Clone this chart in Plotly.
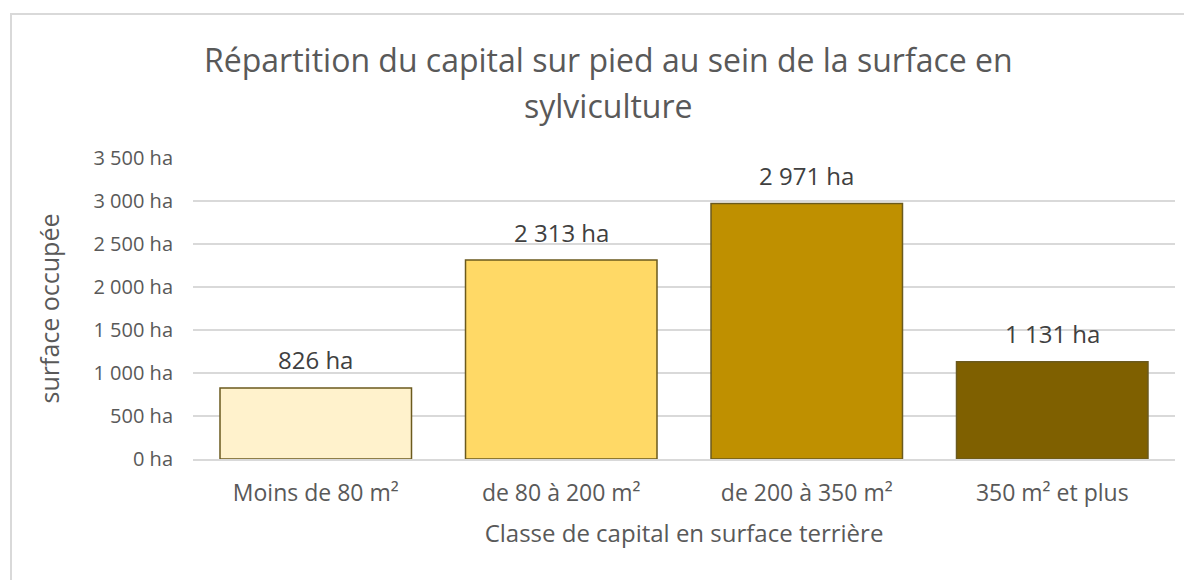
import plotly.graph_objects as go

categories = ["Moins de 80 m²", "de 80 à 200 m²", "de 200 à 350 m²", "350 m² et plus"]
surfaces = [826, 2313, 2971, 1131]
labels = ["826 ha", "2 313 ha", "2 971 ha", "1 131 ha"]
bar_colors = ["#FFF2CC", "#FFD966", "#BF9000", "#7F6000"]
tick_vals = [0, 500, 1000, 1500, 2000, 2500, 3000, 3500]
tick_text = ["0 ha", "500 ha", "1 000 ha", "1 500 ha", "2 000 ha", "2 500 ha", "3 000 ha", "3 500 ha"]

FONT = "Open Sans"
GRAY = "#595959"

# plot area in figure pixels (page has an 8px body margin)
L, R, T, B = 185, 25, 150, 129
PW, PH = 1192 - L - R, 580 - T - B

fig = go.Figure()
fig.add_trace(go.Bar(
    x=categories, y=surfaces,
    marker=dict(color=bar_colors, line=dict(color="#6B5A1E", width=1.5)),
    width=0.78, hoverinfo="x+y",
))

data_labels = [
    dict(x=c, y=v, text=t, xref="x", yref="y", showarrow=False, yshift=28,
         xanchor="center", yanchor="middle",
         font=dict(family=FONT, size=24, color="#404040"))
    for c, v, t in zip(categories, surfaces, labels)
]

fig.update_layout(
    width=1192, height=580,
    paper_bgcolor="white", plot_bgcolor="white",
    margin=dict(l=L, r=R, t=T, b=B),
    showlegend=False,
    font=dict(family=FONT, color=GRAY),
    xaxis=dict(
        tickfont=dict(family=FONT, size=23, color=GRAY),
        title=dict(text="Classe de capital en surface terrière", font=dict(family=FONT, size=24, color=GRAY), standoff=18),
        showline=True, linecolor="#D9D9D9", linewidth=1.5,
        ticks="", showgrid=False, ticklabelstandoff=13,
    ),
    yaxis=dict(
        range=[0, 3500],
        tickvals=tick_vals, ticktext=tick_text,
        tickfont=dict(family=FONT, size=20, color=GRAY),
        title=dict(text="surface occupée", font=dict(family=FONT, size=25, color=GRAY), standoff=26),
        showgrid=True, gridcolor="#D9D9D9", gridwidth=1.5,
        zeroline=False, ticks="", ticklabelstandoff=19,
    ),
    annotations=data_labels + [
        dict(text="Répartition du capital sur pied au sein de la surface en", xref="paper", yref="paper",
             x=(600 - L) / PW, y=1 + (T - 52) / PH, showarrow=False,
             font=dict(family=FONT, size=32, color=GRAY), xanchor="center", yanchor="middle"),
        dict(text="sylviculture", xref="paper", yref="paper",
             x=(600 - L) / PW, y=1 + (T - 97) / PH, showarrow=False,
             font=dict(family=FONT, size=32, color=GRAY), xanchor="center", yanchor="middle"),
    ],
    shapes=[
        dict(type="rect", xref="paper", yref="paper",
             x0=-(L - 3) / PW, x1=1 + 40 / PW, y0=-(B + 40) / PH, y1=1 + (T - 6) / PH,
             line=dict(color="#D9D9D9", width=2), fillcolor="rgba(0,0,0,0)", layer="below"),
    ],
)

fig.write_html("out.html")
